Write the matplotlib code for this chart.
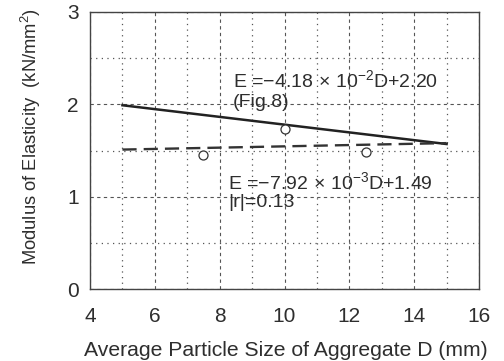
import matplotlib as mpl
mpl.use('Agg')
import matplotlib.pyplot as plt
from matplotlib.ticker import MultipleLocator

plt.rcParams['font.family'] = ['Liberation Sans', 'DejaVu Sans']
plt.rcParams['mathtext.fontset'] = 'custom'
plt.rcParams['mathtext.rm'] = 'Liberation Sans'
plt.rcParams['mathtext.it'] = 'Liberation Sans'

# measured points: particle size D (mm) vs modulus of elasticity
size_d = [7.5, 10.0, 12.5]
modulus = [1.45, 1.73, 1.48]

# regression line from Fig.8 and the fitted line of this data
fig8_d = [5, 15]
fig8_e = [1.99, 1.57]
fit_d = [5, 15]
fit_e = [1.51, 1.58]

eq_fig8 = r'E =$-$4.18$\,\times\,$10$^{-2}$D+2.20'
eq_fit = r'E =$-$7.92$\,\times\,$10$^{-3}$D+1.49'

ink = '#2e2e2e'

fig = plt.figure(figsize=(5.04, 3.61), dpi=100)
ax = fig.add_axes([0.1786, 0.1994, 0.7718, 0.7674])

ax.plot(fig8_d, fig8_e, '-', color='#222222', lw=1.8, zorder=3)
ax.plot(fit_d, fit_e, '--', color='#333333', lw=1.7, dashes=(6, 3), zorder=3)
ax.plot(size_d, modulus, 'o', mfc='white', mec='#333333', mew=0.9, ms=6.5, zorder=4)

ax.set_xlim(4, 16)
ax.set_ylim(0, 3)
ax.xaxis.set_major_locator(MultipleLocator(2))
ax.xaxis.set_minor_locator(MultipleLocator(1))
ax.yaxis.set_major_locator(MultipleLocator(1))
ax.yaxis.set_minor_locator(MultipleLocator(0.5))

ax.grid(True, which='major', color='#555555', ls=(0, (3, 3)), lw=0.8)
ax.grid(True, which='minor', color='#555555', ls=(0, (1, 3.5)), lw=0.9)
ax.tick_params(which='both', length=0, colors=ink, labelsize=15)
ax.tick_params(axis='x', pad=13)
ax.tick_params(axis='y', pad=8)
for s in ax.spines.values():
    s.set_color('#444444')
    s.set_linewidth(1.0)

fig.text(286 / 504, 1 - 350 / 361, 'Average Particle Size of Aggregate D (mm)',
         fontsize=15.2, color=ink, ha='center', va='center')
fig.text(31 / 504, 1 - 137 / 361, 'Modulus of Elasticity  (kN/mm$^2$)',
         fontsize=13.2, color=ink, ha='center', va='center', rotation=90)

ax.text(8.41, 2.19, eq_fig8, fontsize=14, color=ink, va='baseline')
ax.text(8.41, 1.97, '(Fig.8)', fontsize=14, color=ink, va='baseline')
ax.text(8.26, 1.08, eq_fit, fontsize=14, color=ink, va='baseline')
ax.text(8.26, 0.89, '|r|=0.13', fontsize=14, color=ink, va='baseline')

plt.savefig('out.png', dpi=100)
